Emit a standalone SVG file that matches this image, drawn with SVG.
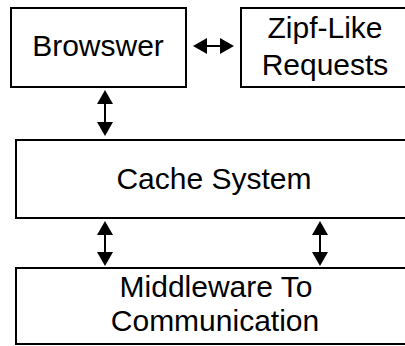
<svg xmlns="http://www.w3.org/2000/svg" width="405" height="346" viewBox="0 0 405 346">
  <style>
    .box { fill: #ffffff; stroke: #000000; stroke-width: 2; }
    .label { font-family: "Liberation Sans", Arial, sans-serif; font-size: 30px; fill: #000000; text-anchor: middle; }
    .link { stroke: #000000; stroke-width: 2; fill: none; marker-start: url(#head); marker-end: url(#head); }
  </style>
  <defs>
    <marker id="head" viewBox="0 0 14 16" refX="10" refY="8" markerWidth="14" markerHeight="16" markerUnits="userSpaceOnUse" orient="auto-start-reverse">
      <path d="M0,0 L14,8 L0,16 z" fill="#000000"/>
    </marker>
  </defs>
  <rect width="405" height="346" fill="#ffffff"/>

  <g id="browser">
    <rect class="box" x="11" y="8" width="175" height="79"/>
    <text class="label" x="98" y="56">Browswer</text>
  </g>

  <g id="zipf-requests">
    <rect class="box" x="241" y="8" width="172" height="79"/>
    <text class="label" x="325" y="38">Zipf-Like</text>
    <text class="label" x="325" y="75">Requests</text>
  </g>

  <g id="cache-system">
    <rect class="box" x="16" y="140" width="400" height="78"/>
    <text class="label" x="214" y="189">Cache System</text>
  </g>

  <g id="middleware">
    <rect class="box" x="16" y="268" width="400" height="76"/>
    <text class="label" x="216" y="297">Middleware To</text>
    <text class="label" x="215" y="331">Communication</text>
  </g>

  <g id="connectors">
    <line class="link" x1="197" y1="46" x2="230" y2="46"/>
    <line class="link" x1="105" y1="94" x2="105" y2="132"/>
    <line class="link" x1="105" y1="225" x2="105" y2="262"/>
    <line class="link" x1="320" y1="225" x2="320" y2="262"/>
  </g>
</svg>
